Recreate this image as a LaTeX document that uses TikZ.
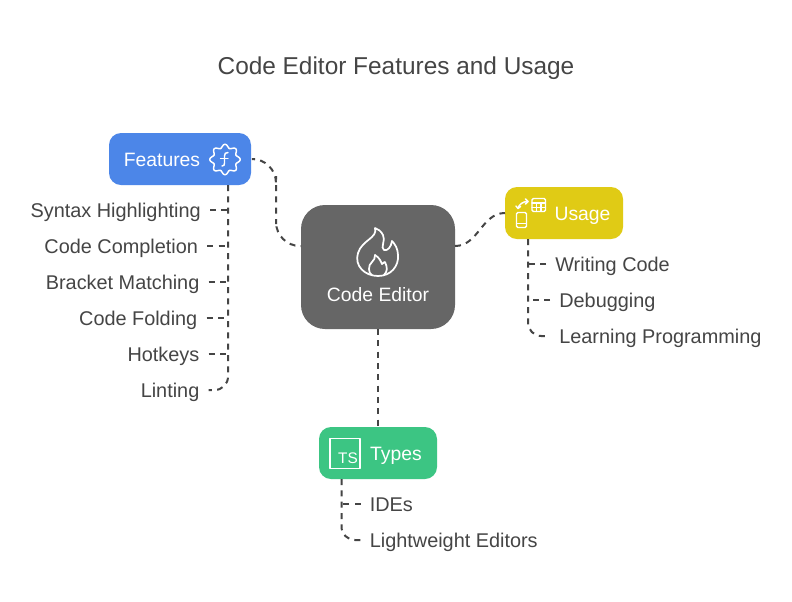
\documentclass[tikz,border=0pt]{standalone}
\usepackage{fontspec}
\setmainfont{Liberation Sans}
\usetikzlibrary{positioning}

\definecolor{inkgrey}{HTML}{454545}
\definecolor{featblue}{HTML}{4C86E8}
\definecolor{editorgrey}{HTML}{666666}
\definecolor{usageyellow}{HTML}{E0CB15}
\definecolor{typesgreen}{HTML}{3CC583}

\begin{document}
\begin{tikzpicture}[
x=0.75pt,y=-0.75pt,
pill/.style={
	% The shape:
	rectangle,rounded corners=9pt,
	minimum width=88.5pt,minimum height=39pt,
	inner sep=0pt,outer sep=0pt},
boxlabel/.style={
	inner sep=0pt,text=white,
	text height=11.5pt,text depth=1pt,
	font=\fontsize{14.5}{17}\selectfont},
leaf/.style={
	% Text with a gap for the connector
	inner sep=0pt,outer sep=7pt,text=inkgrey,
	text height=11.5pt,text depth=1pt,
	font=\fontsize{14.9}{18}\selectfont},
link/.style={
	line width=1.5pt,draw=inkgrey,dash pattern=on 4.5pt off 4pt},
icon/.style={
	line width=1.1pt,draw=white,line join=round,line cap=round},
]

\useasboundingbox (0,0) rectangle (792,601);
\fill[white] (0,0) rectangle (792,601);

\node (title) [inner sep=0pt,text=inkgrey,text height=14pt,text depth=1pt,font=\fontsize{18.3}{22}\selectfont] at (396,66) {Code Editor Features and Usage};

% The boxes
\node (editor) [pill,fill=editorgrey,rounded corners=18pt,minimum width=115.5pt,minimum height=93pt] at (378,267) {};
\node (features) [pill,fill=featblue,minimum width=106.5pt] at (180,159) {};
\node (usage) [pill,fill=usageyellow] at (564,213) {};
\node (types) [pill,fill=typesgreen] at (378,453) {};

\node (editor label) [boxlabel] at (378,294) {Code Editor};
\node (features label) [boxlabel] at (162,159) {Features};
\node (usage label) [boxlabel] at (582.5,213) {Usage};
\node (types label) [boxlabel] at (396,453) {Types};

% Left column
\node (syntax) [leaf,anchor=east] at (210,210) {Syntax Highlighting};
\node (completion) [leaf,below=27pt of syntax.east,anchor=east,xshift=-2pt] {Code Completion};
\node (bracket) [leaf,below=27pt of completion.east,anchor=east,xshift=1pt] {Bracket Matching};
\node (folding) [leaf,below=27pt of bracket.east,anchor=east,xshift=-1.5pt] {Code Folding};
\node (hotkeys) [leaf,below=27pt of folding.east,anchor=east,xshift=1.5pt] {Hotkeys};
\node (linting) [leaf,below=27pt of hotkeys.east,anchor=east] {Linting};

% Right column
\node (writing) [leaf,anchor=west] at (546,264) {Writing Code};
\node (debugging) [leaf,below=27pt of writing.west,anchor=west,xshift=3pt] {Debugging};
\node (learning) [leaf,below=27pt of debugging.west,anchor=west] {Learning Programming};

% Bottom column
\node (ides) [leaf,anchor=west] at (360.5,504) {IDEs};
\node (lightweight) [leaf,below=27pt of ides.west,anchor=west] {Lightweight Editors};

% Where the connectors leave the boxes
\coordinate (features root) at (228,185);
\coordinate (usage root) at (528,239);
\coordinate (types root) at (341.5,479);
\coordinate (editor left) at (301,246);
\coordinate (editor right) at (455,246);
\coordinate (features bend) at (276,200);

\draw[link,rounded corners=18pt,shorten <=3pt] (features.east) -| (features bend) |- (editor left);
\draw[link] (editor right) to[out=0,in=180] (usage.west);
\draw[link] (editor.south) -- (types.north);

\draw[link,rounded corners=10pt] (features root) |- (linting.east);
\draw[link] (syntax.east) -- (syntax.east -| features root);
\draw[link] (completion.east) -- (completion.east -| features root);
\draw[link] (bracket.east) -- (bracket.east -| features root);
\draw[link] (folding.east) -- (folding.east -| features root);
\draw[link] (hotkeys.east) -- (hotkeys.east -| features root);

\draw[link,rounded corners=10pt] (usage root) |- (learning.west);
\draw[link] (writing.west) -- (writing.west -| usage root);
\draw[link] (debugging.west) -- (debugging.west -| usage root);

\draw[link,rounded corners=10pt] (types root) |- (lightweight.west);
\draw[link] (ides.west) -- (ides.west -| types root);

% Flame
\draw[icon,line width=1.3pt] (375,228) .. controls (378,238) and (362,240) .. (358,253)
	.. controls (354,266) and (365,276) .. (378,276)
	.. controls (391,276) and (399,266) .. (398,255)
	.. controls (398,249) and (395,244) .. (392,241)
	.. controls (391,247) and (388,251) .. (384,250)
	.. controls (380,248) and (386,240) .. (383,235)
	.. controls (381,231) and (378,229) .. (375,228) -- cycle;
\draw[icon,line width=1.3pt] (375,255) .. controls (376,261) and (368,263) .. (369,269)
	.. controls (369,272) and (370,274) .. (372,275);
\draw[icon,line width=1.3pt] (375,255) .. controls (380,258) and (381,262) .. (382,264)
	.. controls (384,262) and (385,262) .. (385,262)
	.. controls (388,268) and (387,272) .. (384,275);

% Gear with the f
\draw[icon] plot[smooth cycle,samples=64,domain=0:354.375] ({225+(13.5+1.8*cos(8*\x))*cos(\x)},{159.5+(13.5+1.8*cos(8*\x))*sin(\x)});
\draw[icon] (222,166) .. controls (224,166) and (224.5,165) .. (224.5,163) -- (224.5,156)
	.. controls (224.5,153.5) and (225.5,152.5) .. (228,152.5);
\draw[icon] (220.5,158.5) -- (228,158.5);

% Phone, table and arrows
\draw[icon,rounded corners=1pt] (516.5,212.5) rectangle (526.5,227.5);
\draw[icon] (516.5,223.5) -- (526.5,223.5);
\draw[icon,rounded corners=1pt] (532,198.5) rectangle (545.5,211.5);
\draw[icon] (532,203) -- (545.5,203);
\draw[icon,line width=0.8pt] (532,207.2) -- (545.5,207.2);
\draw[icon,line width=0.8pt] (536.5,203) -- (536.5,211.5);
\draw[icon,line width=0.8pt] (541,203) -- (541,211.5);
\draw[icon] (518,208.5) .. controls (519,204) and (523,201.5) .. (528,201.5);
\draw[icon] (525.5,199) -- (528,201.5) -- (525.5,204);
\draw[icon] (516,206) -- (518,208.5) -- (520.5,206.5);

% TS box
\draw[icon] (330,438.5) rectangle (360,468.5);
\node (ts label) [inner sep=0pt,text=white,font=\fontsize{11.5}{13}\selectfont] at (348,458.5) {TS};

\end{tikzpicture}
\end{document}
